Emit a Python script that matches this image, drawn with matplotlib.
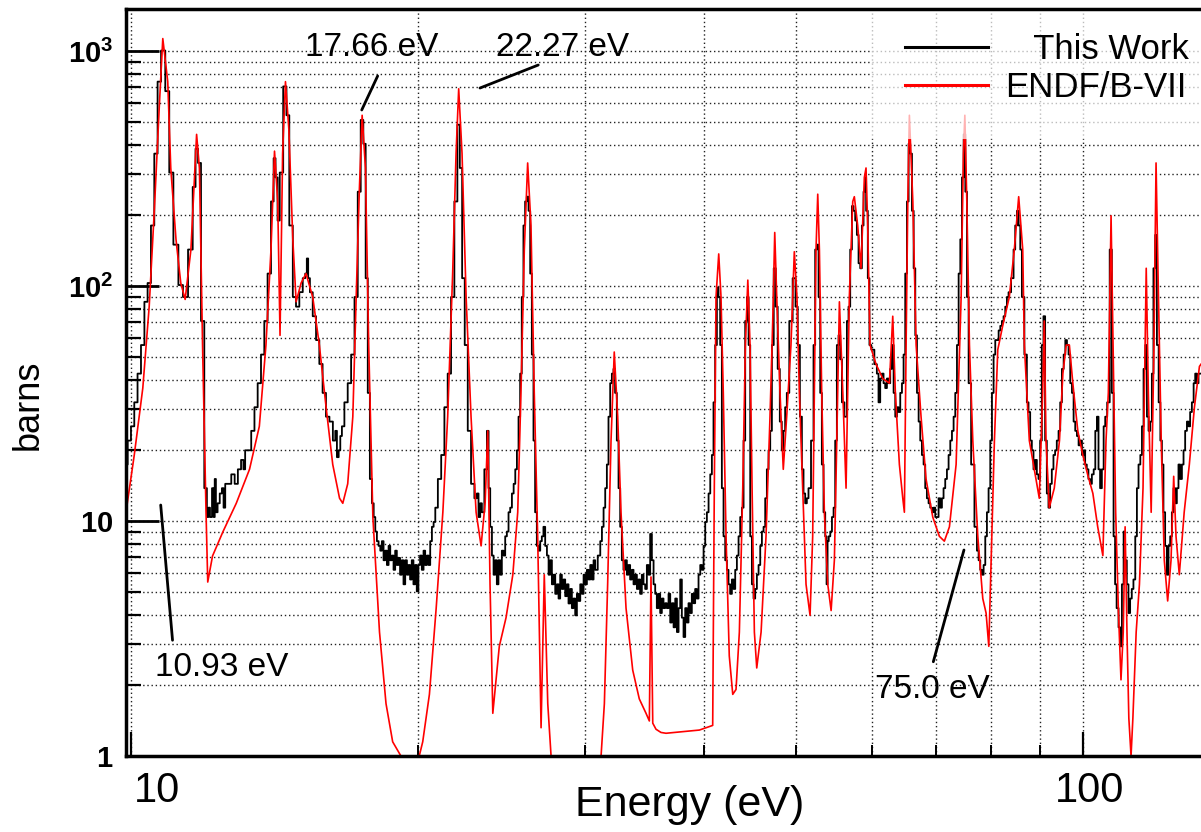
import matplotlib
matplotlib.use('Agg')
import matplotlib.pyplot as plt
from matplotlib.ticker import FixedLocator, LogLocator, NullFormatter
import numpy as np

plt.rcParams['font.family'] = ['Liberation Sans', 'DejaVu Sans']
plt.rcParams['mathtext.fontset'] = 'custom'
plt.rcParams['mathtext.rm'] = 'Liberation Sans'
plt.rcParams['mathtext.bf'] = 'Liberation Sans:bold'

# ENDF/B-VII evaluation (red), energy in eV and cross section in barns
endf_energy = [
    9.88, 10.08, 10.29, 10.45, 10.58, 10.71, 10.80, 10.93, 11.01, 11.15,
    11.28, 11.40, 11.56, 11.66, 11.72, 11.80, 11.89, 11.99, 12.04, 12.18,
    12.49, 12.90, 13.32, 13.64, 13.86, 14.03, 14.15, 14.26, 14.34, 14.43,
    14.53, 14.65, 14.79, 14.91, 15.09, 15.27,
    15.52, 15.77, 16.03, 16.29, 16.56, 16.69, 16.89, 17.10, 17.24, 17.37,
    17.49, 17.63, 17.77, 17.95, 18.24, 18.53, 18.83, 19.21, 20.08, 20.25,
    20.58, 20.92, 21.26, 21.51, 21.77, 21.95, 22.09, 22.27, 22.49, 22.76,
    23.04, 23.32, 23.55,
    23.70, 23.83, 23.99, 24.37, 24.77, 25.18, 25.48, 25.68, 25.89, 26.10,
    26.31, 26.52, 26.74, 26.96, 27.17, 27.40, 27.62, 31.17, 31.42, 31.67,
    31.93, 32.18, 32.45, 32.71, 33.11, 33.65, 34.19, 34.75, 35.03, 35.17,
    35.32, 35.60, 36.03, 36.47,
    39.54, 40.83, 40.99, 41.16, 41.43, 41.66, 41.89, 42.17, 42.50, 42.86,
    43.20, 43.55, 43.91, 44.19, 44.45, 44.69, 44.91, 45.16, 45.42, 45.90,
    46.45, 46.90, 47.21, 47.44, 47.67, 48.05, 48.43, 48.83, 49.34, 49.74,
    50.06, 50.35, 50.76, 51.17, 51.67, 52.00, 52.21, 52.42, 52.64, 52.85,
    53.15, 53.49, 53.93, 54.37, 54.80, 55.12, 55.47, 55.93, 56.37,
    56.82, 57.29, 57.51, 57.98, 58.45, 58.92, 59.16, 59.40, 59.74, 60.61,
    61.6, 62.6, 63.11, 63.51, 64.13, 64.66, 64.91, 65.18, 65.45, 65.70,
    66.25, 66.78, 67.58, 68.40, 69.52, 70.64, 71.50, 72.38, 73.56, 74.46,
    74.87, 75.13, 75.49, 75.97, 76.59, 77.52, 78.46, 79.09, 79.61, 80.06,
    80.70, 81.36, 82.33, 83.66, 84.68, 85.58, 86.42,
    86.76, 87.81, 88.88, 89.95, 90.69, 91.04, 91.42, 92.15, 93.27, 94.45,
    95.23, 96.00, 96.74, 97.55, 98.73, 99.93, 101.1, 102.4, 103.6, 104.9,
    105.7, 106.3, 107.0, 107.7, 108.2, 108.9, 109.6, 110.2, 110.7, 111.2,
    111.7, 112.3, 112.8, 113.7, 114.6, 115.6, 116.2, 116.5, 117.1, 117.9,
    118.7, 119.3, 120.0, 120.8, 121.7, 122.7, 123.7, 124.5, 125.2, 126.2,
    127.7, 129.3, 130.9, 132.5, 133.0,
]
endf_xs = [
    10.9, 19.1, 36.8, 81.7, 209, 586, 1130, 741, 318, 158,
    103, 87.7, 143, 290, 442, 318, 56, 10.9, 5.5, 7.1,
    9.0, 11.9, 16.6, 25.3, 56.1, 143, 375, 229, 61.7, 366,
    741, 463, 158, 85.7, 103, 113,
    89.8, 56.1, 30.5, 17.4, 12.5, 11.9, 14.4, 27.8, 89.8, 252,
    533, 318, 56.1, 10.4, 3.37, 1.67, 1.15, 0.8, 0.8, 1.15,
    1.83, 4.26, 10.9, 27.8, 113, 366, 691, 366, 89.8, 27.8,
    10.9, 7.84, 12.0,
    24.2, 5.38, 1.52, 2.93, 3.88, 5.91, 10.9, 35.1, 143, 334,
    181, 35.1, 8.61, 1.32, 5.91, 1.67, 0.8, 0.8, 1.67, 5.38,
    22.0, 52.4, 27.8, 10.9, 4.26, 2.32, 1.75, 1.52, 1.41, 5.78,
    1.38, 1.30, 1.26, 1.25,
    1.29, 1.35, 13.8, 89.8, 137, 89.8, 35.1, 8.61, 2.67, 1.83,
    1.92, 3.37, 13.8, 56.1, 106, 56.1, 13.8, 3.37, 2.37, 3.37,
    8.61, 27.8, 71.0, 169, 89.8, 35.1, 16.6, 27.8, 56.1, 140,
    89.8, 35.1, 13.8, 5.38, 3.97, 8.61, 35.1, 143, 246, 143,
    35.1, 10.9, 5.38, 4.16, 6.81, 22.0, 85.7, 35.1, 13.8,
    89.8, 229, 240, 181, 119, 290, 318, 181, 56.1, 46.5,
    40.4, 38.6, 74.4, 35.1, 17.4, 12.5, 10.9, 56.1, 229, 533,
    229, 56.1, 27.8, 15.1, 10.4, 8.61, 8.21, 9.45, 17.4, 89.8,
    366, 533, 229, 56.1, 22.0, 8.61, 4.68, 4.06, 2.93, 6.81,
    22.0, 53.6, 67.7, 89.8, 143, 240, 143,
    56.1, 22.0, 16.6, 12.5, 35.1, 71.0, 22.0, 11.4, 13.8, 22.0,
    42.4, 56.1, 56.1, 38.6, 24.2, 19.1, 15.8, 13.1, 9.45, 7.13,
    22.0, 35.1, 199, 35.1, 10.9, 4.26, 2.11, 3.37, 9.45, 3.37,
    1.45, 0.8, 1.45, 3.37, 5.38, 13.8, 56.1, 119, 35.1, 10.9,
    56.1, 334, 89.8, 22.0, 6.81, 4.57, 6.81, 15.5, 8.61, 5.91,
    10.9, 17.4, 30.5, 45.5, 46.5,
]

# measured cross section, this work (black histogram)
work_energy = [
    9.88, 9.96, 10.04, 10.12, 10.20, 10.29, 10.37, 10.45, 10.54, 10.62,
    10.71, 10.80, 10.93, 11.01, 11.15, 11.28, 11.40, 11.56, 11.66, 11.72,
    11.80, 11.89, 11.99, 12.04, 12.08, 12.13, 12.20, 12.23, 12.26, 12.30,
    12.36, 12.43, 12.49, 12.53, 12.59, 12.69, 12.80, 12.90, 13.00, 13.10,
    13.15, 13.21, 13.32, 13.43, 13.53, 13.64, 13.75, 13.86, 13.97, 14.09,
    14.15, 14.22, 14.29, 14.37, 14.53, 14.60, 14.73, 14.85, 14.96, 15.09,
    15.21, 15.27,
    15.33, 15.37, 15.46, 15.58, 15.71, 15.83, 15.96, 16.09, 16.23, 16.36,
    16.42, 16.49, 16.56, 16.62, 16.69, 16.82, 16.96, 17.10, 17.24, 17.37,
    17.49, 17.59, 17.69, 17.77, 17.87, 17.95, 18.02, 18.09, 18.16, 18.24,
    18.31, 18.38, 18.46, 18.53, 18.61, 18.68, 18.76, 18.83, 18.91, 18.98,
    19.06, 19.13, 19.21, 19.29, 19.37, 19.45, 19.53, 19.60, 19.68, 19.76,
    19.84, 19.92, 20.00, 20.08, 20.16, 20.25, 20.33, 20.41, 20.50, 20.58,
    20.66, 20.75, 20.83, 20.92, 21.09, 21.26, 21.42, 21.60, 21.77, 21.95,
    22.09, 22.21, 22.34, 22.49, 22.67, 22.85, 23.04, 23.13, 23.22, 23.32,
    23.41, 23.60,
    23.70, 23.79, 23.89, 23.99, 24.08, 24.18, 24.27, 24.37, 24.47, 24.57,
    24.67, 24.77, 24.87, 24.97, 25.07, 25.18, 25.28, 25.38, 25.48, 25.58,
    25.68, 25.78, 25.89, 25.99, 26.10, 26.21, 26.31, 26.42, 26.52, 26.63,
    26.74, 26.85, 26.96, 27.06, 27.17, 27.29, 27.40, 27.51, 27.62, 27.73,
    27.84, 27.96, 28.07, 28.18, 28.29, 28.41, 28.52, 28.64, 28.75, 28.87,
    28.99, 29.10, 29.22, 29.34, 29.46, 29.58, 29.70, 29.82, 29.94, 30.06,
    30.18, 30.30, 30.43, 30.55, 30.67, 30.79, 31.05, 31.17, 31.30, 31.42,
    31.55, 31.67, 31.80, 31.93, 32.06, 32.18, 32.31, 32.45, 32.58, 32.71,
    32.84, 32.97, 33.11, 33.24, 33.37, 33.51, 33.65, 33.78, 33.92, 34.06,
    34.19, 34.33, 34.47, 34.61, 34.75, 34.89, 35.03, 35.17, 35.32, 35.46,
    35.60, 35.74, 35.89, 36.03, 36.18, 36.32, 36.47,
    36.62, 36.77, 36.92, 37.07, 37.22, 37.37, 37.52, 37.67, 37.82, 37.97,
    38.13, 38.28, 38.43, 38.59, 38.74, 38.90, 39.06, 39.21, 39.37, 39.54,
    39.70, 39.86, 40.02, 40.18, 40.34, 40.51, 40.67, 40.83, 40.99, 41.16,
    41.33, 41.49, 41.66, 41.83, 42.00, 42.17, 42.34, 42.50, 42.68, 42.86,
    43.03, 43.20, 43.38, 43.55, 43.73, 43.91, 44.08, 44.26, 44.45, 44.62,
    44.80, 44.98, 45.16, 45.34, 45.53, 45.71, 45.90, 46.08, 46.27, 46.45,
    46.64, 46.83, 47.02, 47.21, 47.44, 47.67, 47.89, 48.16, 48.35, 48.55,
    48.75, 48.94, 49.34, 49.74, 50.03, 50.27, 50.56, 50.76, 50.96, 51.17,
    51.37, 51.58, 52.00, 52.21, 52.42, 52.64, 52.85, 53.06, 53.27, 53.49,
    53.71, 53.84, 53.97, 54.15, 54.37, 54.59, 54.80, 55.02, 55.24, 55.47,
    55.69, 55.93, 56.37,
    56.60, 56.82, 57.06, 57.29, 57.51, 57.75, 57.98, 58.22, 58.45, 58.69,
    58.92, 59.08, 59.27, 59.56, 59.74, 60.12, 60.61, 60.85, 61.10, 61.35,
    61.6, 61.84, 62.10, 62.35, 62.6, 62.85, 63.11, 63.37, 63.62, 63.88,
    64.13, 64.40, 64.66, 64.91, 65.18, 65.45, 65.70, 65.97, 66.25, 66.51,
    66.78, 67.05, 67.32, 67.58, 67.86, 68.13, 68.40, 68.68, 68.96, 69.24,
    69.52, 69.80, 70.08, 70.37, 70.64, 70.94, 71.22, 71.50, 71.80, 72.09,
    72.38, 72.68, 72.97, 73.26, 73.56, 73.86, 74.16, 74.46, 74.76, 75.07,
    75.37, 75.67, 75.97, 76.59, 77.20, 77.52, 77.83, 78.14, 78.46, 78.78,
    79.09, 79.41, 79.73, 80.06, 80.38, 80.70, 81.03, 81.36, 81.69, 82.02,
    82.33, 82.68, 83.01, 83.35, 83.66, 84.37, 84.68, 85.05, 85.39, 85.74,
    86.07, 86.42, 87.11,
    87.46, 87.81, 88.17, 88.52, 88.88, 89.24, 89.60, 89.95, 90.32, 90.69,
    91.04, 91.42, 91.79, 92.15, 92.53, 92.90, 93.27, 93.65, 94.03, 94.45,
    94.79, 95.23, 95.59, 96.00, 96.35, 96.74, 97.14, 97.55, 97.92, 98.32,
    98.73, 99.11, 99.52, 99.93, 100.3, 100.7, 101.1, 101.5, 101.9, 102.4,
    102.8, 103.2, 103.6, 104.0, 104.4, 104.9, 105.3, 105.7, 106.3, 107.0,
    107.4, 107.9, 108.2, 108.7, 109.2, 109.6, 110.1, 110.5, 110.9, 111.4,
    111.8, 112.3, 112.7, 113.2, 113.7, 114.1, 114.6, 115.1, 115.5, 116.0,
    116.5, 116.9, 117.4, 117.9, 118.3, 118.8, 119.3, 119.8, 120.3, 120.8,
    121.2, 121.7, 122.2, 122.7, 123.2, 123.7, 124.2, 124.7, 125.2, 125.7,
    126.2, 126.7, 127.3, 127.7, 128.3, 128.8, 129.3, 129.8, 130.4, 130.9,
    131.4, 131.9, 132.5, 133.0,
]
work_xs = [
    17.4, 22.0, 25.3, 32.0, 42.4, 56.1, 85.7, 103, 181, 366,
    741, 1005, 675, 304, 150, 101, 89.8, 143, 264, 384,
    334, 71.0, 13.8, 10.4, 11.4, 10.4, 13.8, 10.4, 15.1, 10.9,
    11.9, 13.1, 13.8, 11.4, 14.4, 14.4, 15.8, 14.4, 16.6, 18.2,
    16.6, 20.0, 20.0, 24.2, 30.5, 38.6, 51.1, 71.0, 113, 229,
    350, 290, 190, 304, 707, 533, 181, 89.8, 81.7, 94.2,
    108, 113,
    131, 108, 94.1, 74.4, 58.9, 46.6, 35.1, 27.8, 26.5, 22.0,
    24.2, 18.7, 20.0, 23.0, 25.3, 32.0, 38.6, 51.1, 89.8, 252,
    509, 403, 108, 35.1, 15.1, 11.9, 10.4, 9.02, 8.21, 7.84,
    7.48, 8.21, 6.81, 7.48, 6.50, 7.84, 6.81, 7.13, 6.20, 7.48,
    6.50, 6.97, 5.91, 6.81, 5.38, 6.81, 5.91, 6.50, 5.64, 6.81,
    5.38, 6.50, 5.02, 6.50, 7.13, 6.20, 7.48, 6.50, 7.13, 6.50,
    8.21, 9.45, 9.91, 11.4, 15.1, 19.1, 30.5, 42.4, 89.8, 229,
    486, 318, 108, 56.1, 24.2, 14.4, 12.5, 13.1, 10.4, 11.9,
    10.9, 16.6,
    24.2, 13.8, 9.45, 7.13, 5.91, 6.81, 5.38, 6.81, 5.91, 7.48,
    7.13, 8.61, 9.02, 10.9, 11.4, 13.1, 14.4, 16.6, 20.0, 27.8,
    42.4, 89.8, 181, 229, 240, 209, 113, 51.1, 22.0, 10.9,
    7.84, 7.48, 8.21, 8.61, 9.45, 7.84, 7.13, 5.91, 6.81, 5.38,
    5.91, 4.90, 5.38, 4.68, 5.91, 5.14, 5.64, 4.79, 5.38, 4.46,
    5.14, 4.26, 4.68, 3.97, 4.90, 4.57, 5.38, 4.90, 5.91, 5.38,
    6.20, 5.64, 6.50, 5.64, 6.81, 6.20, 7.13, 8.21, 9.45, 11.4,
    13.8, 17.4, 27.8, 38.6, 42.4, 44.4, 35.1, 22.0, 13.8, 9.45,
    6.81, 6.20, 6.81, 5.91, 6.50, 5.64, 6.20, 5.38, 5.91, 5.14,
    5.64, 4.90, 5.91, 5.38, 5.14, 6.50, 5.91, 8.81, 6.81, 5.38,
    4.90, 4.26, 4.90, 4.06, 4.68, 4.26, 4.47,
    4.26, 4.90, 3.70, 4.47, 3.53, 4.68, 3.37, 4.26, 5.64, 3.88,
    3.21, 4.26, 3.70, 4.47, 4.06, 4.90, 4.47, 5.14, 4.68, 5.91,
    6.50, 6.20, 7.84, 9.91, 10.9, 13.1, 15.8, 19.1, 32.0, 56.1,
    98.6, 89.8, 56.1, 13.8, 8.61, 6.81, 6.20, 5.38, 4.90, 5.64,
    5.14, 6.20, 7.13, 8.61, 10.4, 11.4, 22.0, 71.0, 89.8, 56.1,
    8.61, 5.38, 4.68, 5.14, 5.91, 6.50, 7.84, 9.02, 9.45, 12.5,
    16.6, 20.0, 24.2, 56.1, 119, 81.7, 44.4, 26.5, 20.0, 24.2,
    30.5, 35.1, 71.0, 108, 81.7, 56.1, 27.8, 16.6, 13.1, 11.9,
    12.5, 13.8, 22.0, 56.1, 143, 150, 89.8, 35.1, 17.4, 10.9,
    8.61, 5.38, 8.21, 8.61, 9.02, 10.4, 11.4, 22.0, 56.1, 61.7,
    48.8, 32.0, 27.8,
    71.0, 81.7, 143, 219, 209, 190, 165, 125, 119, 181,
    252, 290, 209, 108, 56.1, 53.6, 46.5, 42.4, 32.0, 40.4,
    42.4, 38.6, 36.8, 40.4, 38.6, 44.4, 56.1, 35.1, 27.8, 30.5,
    29.1, 35.1, 38.6, 51.1, 113, 229, 403, 366, 209, 119,
    61.7, 35.1, 26.5, 22.0, 19.1, 17.4, 13.8, 12.5, 11.9, 11.4,
    10.9, 11.4, 10.4, 10.4, 12.5, 11.4, 12.5, 13.8, 15.1, 16.6,
    19.1, 22.0, 24.2, 27.8, 35.1, 56.1, 113, 158, 290, 442,
    252, 89.8, 38.6, 17.4, 9.45, 7.48, 6.81, 6.20, 5.91, 6.50,
    8.61, 10.9, 13.8, 22.0, 35.1, 51.1, 58.9, 58.9, 64.7, 67.7,
    71.0, 74.4, 81.7, 89.8, 94.1, 108, 143, 181, 209, 181,
    143, 89.8, 51.1,
    32.0, 29.1, 22.0, 20.0, 16.6, 18.2, 15.8, 15.1, 22.0, 56.1,
    74.4, 22.0, 13.1, 11.4, 14.4, 16.6, 19.1, 20.0, 22.0, 24.2,
    32.0, 44.4, 51.1, 58.9, 56.1, 51.1, 38.6, 35.1, 26.5, 24.2,
    23.0, 21.0, 22.0, 19.1, 20.0, 17.4, 16.6, 15.1, 14.4, 15.8,
    16.6, 24.2, 27.8, 16.6, 13.8, 16.6, 25.3, 27.8, 32.0, 143,
    35.1, 8.61, 5.38, 4.26, 3.53, 2.93, 5.38, 9.02, 6.81, 5.38,
    4.06, 4.68, 5.14, 5.64, 8.61, 13.8, 17.4, 19.1, 25.3, 44.4,
    56.1, 27.8, 24.2, 26.5, 42.4, 119, 165, 56.1, 32.0, 22.0,
    17.4, 10.9, 7.84, 5.91, 7.84, 8.61, 10.9, 13.8, 11.9, 13.8,
    17.4, 15.1, 17.4, 20.0, 24.2, 26.5, 25.3, 29.1, 32.0, 38.6,
    42.4, 38.6, 42.4, 42.4,
]

ytick_vals = [1, 10, 100, 1000]
ytick_labels = [r'$\mathbf{1}$', r'$\mathbf{10}$', r'$\mathbf{10^{2}}$', r'$\mathbf{10^{3}}$']
xtick_vals = [10, 100]
xtick_labels = ['10', '100']

fig = plt.figure(figsize=(12.01, 8.32), dpi=100)
ax = fig.add_axes([0.1049, 0.0913, 0.8951, 0.8979])
ax.set_xscale('log')
ax.set_yscale('log')

ax.plot(work_energy, work_xs, color='black', lw=1.3, drawstyle='steps-mid',
        label='   This Work')
ax.plot(endf_energy, np.clip(endf_xs, 1.0, None), color='red', lw=1.2,
        label='ENDF/B-VII')

ax.set_xlim(9.88, 133.0)
ax.set_ylim(1, 1510)

# ticks and grid (ROOT style: inward ticks, dotted grid)
ax.yaxis.set_major_locator(FixedLocator(ytick_vals))
ax.set_yticklabels(ytick_labels)
ax.yaxis.set_minor_locator(LogLocator(base=10, subs=range(2, 10)))
ax.yaxis.set_minor_formatter(NullFormatter())
ax.xaxis.set_major_locator(FixedLocator(xtick_vals))
ax.xaxis.set_minor_locator(LogLocator(base=10, subs=range(2, 10)))
ax.xaxis.set_minor_formatter(NullFormatter())
ax.set_xticklabels([])

ax.tick_params(axis='y', which='major', direction='in', length=24, width=2,
               labelsize=21, pad=9)
ax.tick_params(axis='y', which='minor', direction='in', length=11, width=1.6)
ax.tick_params(axis='x', which='major', direction='in', length=17, width=1.6)
ax.tick_params(axis='x', which='minor', direction='in', length=8, width=1.4)

ax.grid(True, which='both', linestyle=(0, (1, 2)), color='#222222', lw=1.0)
ax.set_axisbelow(True)

for side in ['left', 'bottom', 'top']:
    ax.spines[side].set_linewidth(2.5)
    ax.spines[side].set_color('black')
    ax.spines[side].set_zorder(6)
ax.spines['right'].set_visible(False)

# x tick labels placed like the ROOT canvas (slightly right of the tick)
for val, lab, dx in zip(xtick_vals, xtick_labels, [19, 5]):
    ax.annotate(lab, xy=(val, 0), xycoords=('data', 'axes fraction'),
                xytext=(dx, -11), textcoords='offset points',
                ha='center', va='top', fontsize=30)

fig.text(0.5745, 0.032, 'Energy (eV)', ha='center', va='center', fontsize=31)
fig.text(0.0233, 0.513, 'barns', rotation=90, ha='center', va='center', fontsize=26)

# resonance labels with leader lines
notes = [
    ('10.93 eV', (0.027, 0.119), 'left', (0.0323, 0.336), (0.0433, 0.155)),
    ('17.66 eV', (0.2288, 0.949), 'center', (0.2193, 0.8648), (0.2341, 0.9103)),
    ('22.27 eV', (0.4065, 0.949), 'center', (0.3293, 0.8942), (0.3835, 0.925)),
    ('75.0 eV', (0.7498, 0.0884), 'center', (0.751, 0.1262), (0.7795, 0.2758)),
]
for txt, pos, ha, p0, p1 in notes:
    ax.text(pos[0], pos[1], txt, transform=ax.transAxes, ha=ha, va='center',
            fontsize=24)
    ax.annotate('', xy=p1, xytext=p0, xycoords='axes fraction',
                arrowprops=dict(arrowstyle='-', lw=2, color='black',
                                shrinkA=0, shrinkB=0))

leg = ax.legend(loc='upper left', bbox_to_anchor=(0.692, 1.014), frameon=True,
                fancybox=False, facecolor='white', edgecolor='none',
                framealpha=0.7, fontsize=25, handlelength=2.4,
                handletextpad=0.5, borderpad=1.0, labelspacing=0.15,
                borderaxespad=0)
leg.set_zorder(5)
for line in leg.get_lines():
    line.set_linewidth(2.2)

fig.savefig('out.png', dpi=100)
